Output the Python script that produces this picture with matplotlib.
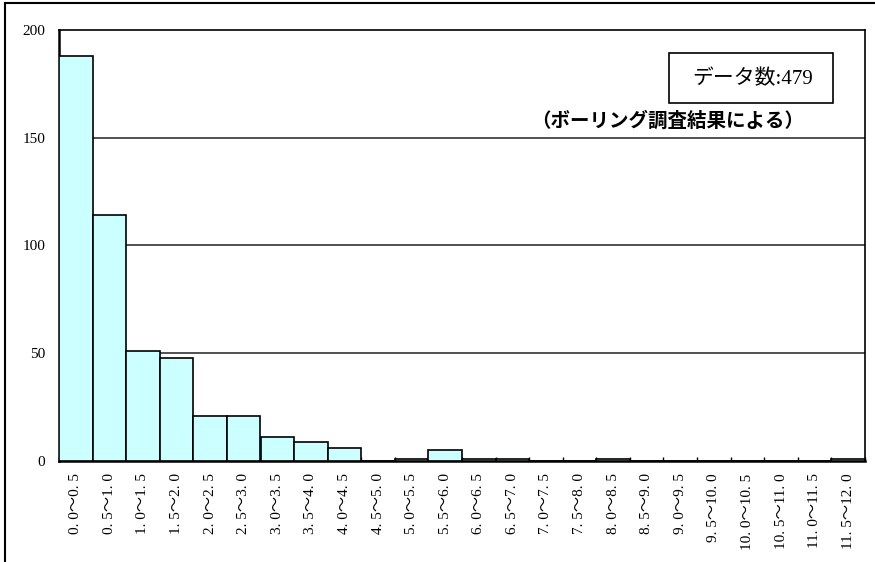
import matplotlib
matplotlib.use("Agg")
import matplotlib.pyplot as plt
from matplotlib.lines import Line2D
from matplotlib.patches import Rectangle

bin_labels = ["0. 0～0. 5", "0. 5～1. 0", "1. 0～1. 5", "1. 5～2. 0", "2. 0～2. 5", "2. 5～3. 0",
              "3. 0～3. 5", "3. 5～4. 0", "4. 0～4. 5", "4. 5～5. 0", "5. 0～5. 5", "5. 5～6. 0",
              "6. 0～6. 5", "6. 5～7. 0", "7. 0～7. 5", "7. 5～8. 0", "8. 0～8. 5", "8. 5～9. 0",
              "9. 0～9. 5", "9. 5～10. 0", "10. 0～10. 5", "10. 5～11. 0", "11. 0～11. 5", "11. 5～12. 0"]
counts = [188, 114, 51, 48, 21, 21, 11, 9, 6, 0, 1, 5, 1, 1, 0, 0, 1, 0, 0, 0, 0, 0, 0, 1]
y_ticks = [0, 50, 100, 150, 200]
n_total = 479

serif = ['Liberation Serif', 'Noto Sans CJK JP']
gothic = ['Noto Sans CJK JP', 'DejaVu Sans']

W, H = 875, 562
fig = plt.figure(figsize=(W / 100, H / 100), dpi=100)
ax = fig.add_axes([59 / W, 1 - 461 / H, (865 - 59) / W, (461 - 30) / H])

x = list(range(len(counts)))
ax.bar(x, counts, width=1.0, color='#CCFFFF', edgecolor='black', linewidth=1.2, zorder=3)
ax.set_xlim(-0.5, len(counts) - 0.5)
ax.set_ylim(0, 200)

for v in y_ticks[1:-1]:
    ax.axhline(v, color='#333333', linewidth=1.2, zorder=1)

ax.set_yticks(y_ticks)
ax.set_yticklabels([str(v) for v in y_ticks], family=serif, fontsize=11)
ax.tick_params(axis='y', length=0, pad=10)

ax.set_xticks(x)
ax.set_xticklabels(bin_labels, rotation=90, family=serif, fontsize=11, va='top')
ax.set_xticks([i - 0.5 for i in range(len(counts) + 1)], minor=True)
ax.tick_params(axis='x', which='major', length=0, pad=9)
ax.tick_params(axis='x', which='minor', length=3, direction='in', width=1)

for s in ax.spines.values():
    s.set_linewidth(1.2)
    s.set_color('black')
ax.spines['bottom'].set_linewidth(1.8)
ax.spines['left'].set_linewidth(1.8)

# outer frame (top and left)
fig.add_artist(Line2D([5 / W, 5 / W], [0, 1 - 3 / H], color='black', linewidth=1.5))
fig.add_artist(Line2D([5 / W, 1], [1 - 3 / H, 1 - 3 / H], color='black', linewidth=1.5))

# annotation box
fig.add_artist(Rectangle((669 / W, 1 - 103 / H), (833 - 669) / W, (103 - 53) / H,
                         transform=fig.transFigure, fill=True, facecolor='white',
                         edgecolor='black', linewidth=1.2, zorder=5))
fig.text(753 / W, 1 - 79 / H, f"データ数:{n_total}", family=serif, fontsize=15,
         ha='center', va='center', zorder=6)
fig.text(668 / W, 1 - 121 / H, "（ボーリング調査結果による）", family=gothic, fontsize=14,
         fontweight='bold', ha='center', va='center', zorder=6)

fig.savefig("out.png", dpi=100)
